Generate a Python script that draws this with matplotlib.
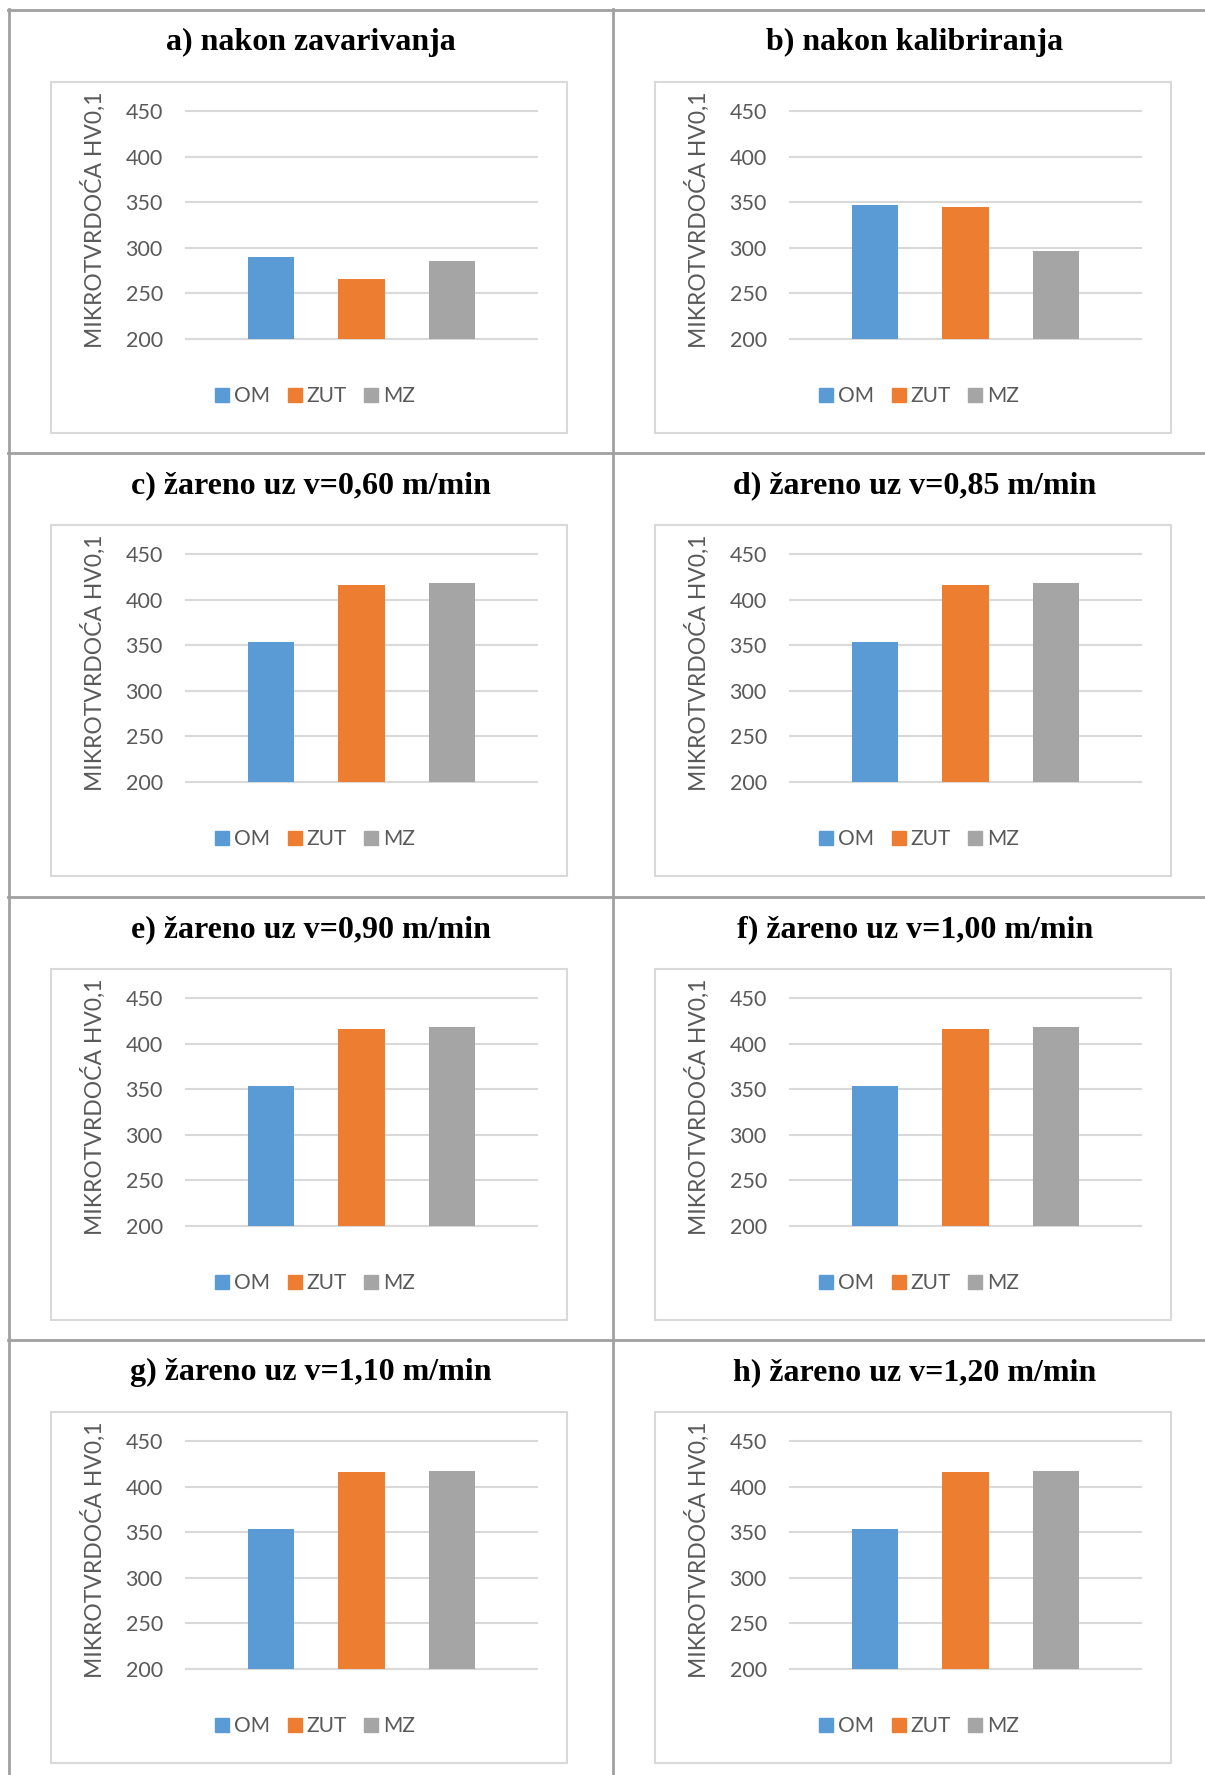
import matplotlib
matplotlib.use('Agg')
import matplotlib.pyplot as plt
from matplotlib.lines import Line2D
from matplotlib.patches import Rectangle, Patch

series = ['OM', 'ZUT', 'MZ']
titles = ['a) nakon zavarivanja', 'b) nakon kalibriranja',
          'c) žareno uz v=0,60 m/min', 'd) žareno uz v=0,85 m/min',
          'e) žareno uz v=0,90 m/min', 'f) žareno uz v=1,00 m/min',
          'g) žareno uz v=1,10 m/min', 'h) žareno uz v=1,20 m/min']
om = [290, 347, 354, 354, 354, 354, 354, 354]
zut = [266, 345, 416, 416, 416, 416, 416, 416]
mz = [286, 297, 418, 418, 418, 418, 417, 417]
yticks = [200, 250, 300, 350, 400, 450]

colors = ['#5b9bd5', '#ed7d31', '#a5a5a5']
txt = '#595959'
W, H = 1205, 1775

fig = plt.figure(figsize=(W / 100, H / 100), dpi=100)
plt.rcParams['font.family'] = ['Lato', 'DejaVu Sans']


def fx(px):
    return px / W


def fy(py):
    return 1 - py / H


# table lines
col_x = [9, 613]
row_y = [10, 453, 897, 1340]
line_kw = dict(color='#a0a0a0', lw=2)
for y in row_y:
    fig.add_artist(Line2D([fx(8), 1], [fy(y), fy(y)], **line_kw))
fig.add_artist(Line2D([fx(8.5), fx(8.5)], [fy(9), 0], **line_kw))
fig.add_artist(Line2D([fx(613), fx(613)], [fy(9), 0], **line_kw))

for i, title in enumerate(titles):
    x0 = col_x[i % 2]
    y0 = row_y[i // 2]

    fig.text(fx(x0 + 302), fy(y0 + 40), title, ha='center', va='baseline',
             fontsize=23, fontweight='bold', family='Liberation Serif')

    # chart frame
    fig.add_artist(Rectangle((fx(x0 + 42), fy(y0 + 423)), (558 - 42) / W, (423 - 72) / H,
                             fill=False, ec='#d9d9d9', lw=1.5))

    ax = fig.add_axes([fx(x0 + 176), fy(y0 + 329), (529 - 176) / W, (329 - 101) / H])
    vals = [om[i], zut[i], mz[i]]
    ax.bar(range(3), vals, width=0.51, color=colors, zorder=3)
    ax.set_xlim(1 - 1.945, 1 + 1.945)
    ax.set_ylim(200, 450)
    ax.hlines(yticks, 1 - 1.945, 1 + 1.945, color='#d9d9d9', lw=1.5, clip_on=False, zorder=1)
    ax.set_yticks(yticks)
    ax.set_xticks([])
    for s in ax.spines.values():
        s.set_visible(False)
    ax.tick_params(axis='y', length=0, pad=16, labelsize=15.5, labelcolor=txt)
    ax.set_ylabel('MIKROTVRDOĆA HV0,1', fontsize=16.5, color=txt)
    ax.yaxis.set_label_coords(-0.225, 0.525)
    ax.patch.set_alpha(0)

    handles = [Patch(color=c, label=s) for c, s in zip(colors, series)]
    fig.legend(handles=handles, loc='center', bbox_to_anchor=(fx(x0 + 306), fy(y0 + 386)),
               ncol=3, frameon=False, fontsize=15, handlelength=0.68, handleheight=0.68,
               handletextpad=0.22, columnspacing=0.85, labelcolor=txt, borderpad=0)

fig.savefig('out.png', dpi=100)
